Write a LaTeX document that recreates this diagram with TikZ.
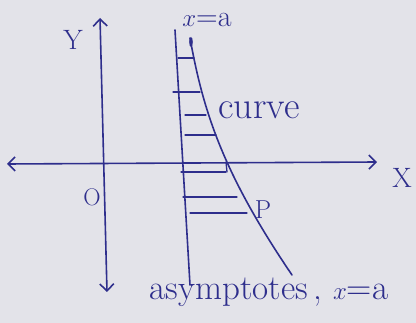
\documentclass[tikz,border=0pt]{standalone}
\usetikzlibrary{arrows.meta}
\definecolor{ink}{HTML}{2E2E8C}
\definecolor{paper}{HTML}{E3E3E9}
\begin{document}
\begin{tikzpicture}[x=1pt,y=-1pt,
  pen/.style={draw=ink,line width=1.6pt,line cap=round},
  hatch/.style={draw=ink,line width=1.3pt,line cap=round},
  axis/.style={pen,{Straight Barb[length=7pt,width=14pt]}-{Straight Barb[length=7pt,width=14pt]}},
  lbl/.style={text=ink,inner sep=0pt},
  fs/.style={font=\fontsize{#1}{#1}\selectfont}]
\fill[paper] (0,0) rectangle (416,323);
\useasboundingbox (0,0) rectangle (416,323);
% axes
\coordinate (xl) at (7,164);
\coordinate (xr) at (377,162);
\coordinate (yt) at (100,18);
\coordinate (yb) at (107,292);
\draw[axis] (xl) -- (xr);
\draw[axis] (yt) -- (yb);
% asymptote
\coordinate (at) at (175,30);
\coordinate (ab) at (190,285);
\draw[pen] (at) -- (ab);
% curve
\coordinate (ct) at (190,38);
\coordinate (cb) at (292,275);
\draw[pen] (ct) .. controls (203,110) and (222,172) .. (cb);
\fill[ink] (191,42) ellipse (1.8pt and 5pt);
% hatch lines
\foreach \y/\a/\b in {58/178/194, 92/173/200, 115/185/206, 135/185/216, 172/181/226, 197/183/237, 213/190/247}
  \draw[hatch] (\a,\y) -- (\b,\y);
% tick on x axis
\draw[hatch] (226,162) -- (227,172);
% labels
\node[lbl,fs=28] (ylab) at (73,40) {Y};
\node[lbl,fs=28] (xlab) at (402,178) {X};
\node[lbl,fs=24] (olab) at (92,197) {O};
\node[lbl,fs=30] (xa) at (207,20) {$x$=a};
\node[lbl,fs=38] (curve) at (259,110) {curve};
\node[lbl,fs=26] (p) at (263,210) {P};
\node[lbl,fs=35] (asym) at (269,292) {asymptotes\,, $x$=a};
\end{tikzpicture}
\end{document}
